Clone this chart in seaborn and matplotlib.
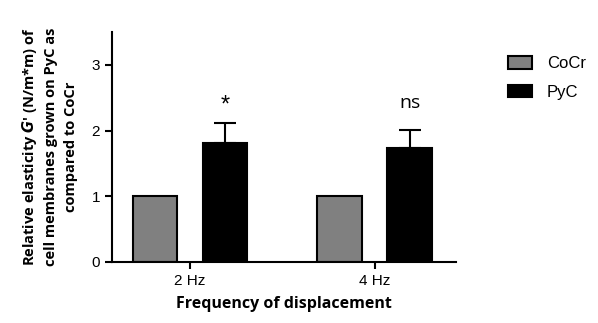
import pandas as pd
import matplotlib.pyplot as plt
import seaborn as sns

# -------------------------------
# 1. Data
# -------------------------------
frequencies = ["2 Hz", "4 Hz"]
materials = ["CoCr", "PyC"]
cocr_values = [1.0, 1.0]
pyc_values = [1.81, 1.73]
pyc_errors = [0.30, 0.28]
significance = ["*", "ns"]

df = pd.DataFrame({
    "frequency": frequencies * 2,
    "material": ["CoCr"] * 2 + ["PyC"] * 2,
    "value": cocr_values + pyc_values,
})

# -------------------------------
# 2. Plot
# -------------------------------
sns.set_style("ticks")
plt.rcParams['font.family'] = ['Liberation Sans', 'DejaVu Sans']
plt.rcParams['text.color'] = 'black'
plt.rcParams['axes.labelcolor'] = 'black'
plt.rcParams['xtick.color'] = 'black'
plt.rcParams['ytick.color'] = 'black'
plt.rcParams['axes.edgecolor'] = 'black'

fig = plt.figure(figsize=(5.98, 3.23), dpi=100)
ax = fig.add_axes([0.187, 0.189, 0.575, 0.712])

sns.barplot(data=df, x="frequency", y="value", hue="material",
            palette={"CoCr": "#808080", "PyC": "black"},
            width=0.76, gap=0.37, edgecolor="black", linewidth=1.5,
            errorbar=None, ax=ax)

# error bars (upper only) and significance marks on PyC bars
pyc_bars = ax.containers[1]
for bar, val, err, mark in zip(pyc_bars, pyc_values, pyc_errors, significance):
    xc = bar.get_x() + bar.get_width() / 2
    ax.errorbar(xc, val, yerr=[[0], [err]], fmt="none", ecolor="black",
                elinewidth=1.5, capsize=8, capthick=1.5)
    if mark == "*":
        ax.text(xc, val + err + 0.1, mark, ha="center", va="bottom", fontsize=17)
    else:
        ax.text(xc, val + err + 0.27, mark, ha="center", va="bottom",
                fontsize=14, family="Open Sans")

ax.set_xlim(-0.424, 1.44)
ax.set_ylim(0, 3.5)
ax.set_yticks([0, 1, 2, 3])
ax.tick_params(axis="both", width=1.5, length=5, labelsize=11)
for s in ["left", "bottom"]:
    ax.spines[s].set_linewidth(1.5)
sns.despine(ax=ax)

ax.set_xlabel("Frequency of displacement", fontsize=11.5, fontweight="bold",
              family="Open Sans", labelpad=6)
ax.set_ylabel("Relative elasticity $\\mathbfit{G}$' (N/m*m) of\n"
              "cell membranes grown on PyC as\ncompared to CoCr",
              fontsize=10.5, fontweight="bold", family="Open Sans",
              labelpad=10, linespacing=1.5)

ax.legend(title=None, frameon=False, loc="upper left",
          bbox_to_anchor=(1.11, 0.96), fontsize=12, handlelength=1.4,
          handleheight=0.8, handletextpad=0.9, labelspacing=0.8)

plt.savefig("out.png", dpi=100)
